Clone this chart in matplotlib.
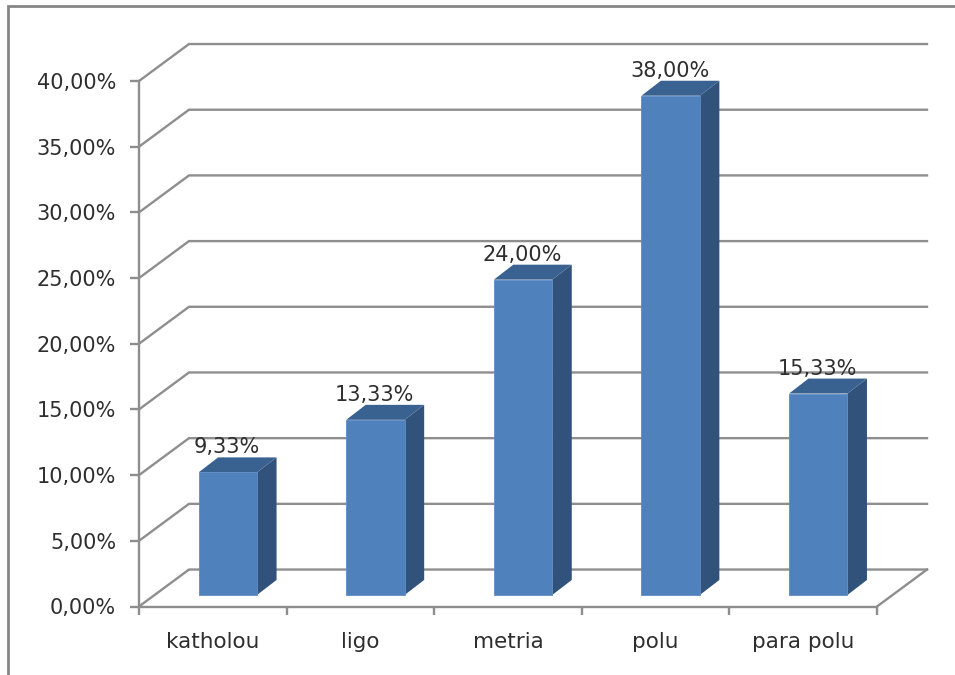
import matplotlib
matplotlib.use('Agg')
import matplotlib.pyplot as plt
from matplotlib.lines import Line2D
from matplotlib.patches import Polygon

categories = ['katholou', 'ligo', 'metria', 'polu', 'para polu']
values = [9.33, 13.33, 24.00, 38.00, 15.33]
y_ticks = [0, 5, 10, 15, 20, 25, 30, 35, 40]

W, H = 955, 675
GRID = '#8e8e8e'
TEXT = '#2e2e2e'

# floor depth of the 3d box, in data units
DEPTH_X = 50 / 147.6
DEPTH_Y = 37 / 13.15

# bar placement inside the box
BAR_W = 0.396
BAR_SHIFT_X = 0.102
BAR_BASE = 0.88
BAR_DX = 0.132
BAR_DY = 1.14


def pct(v):
    return f'{v:.2f}'.replace('.', ',') + '%'


plt.rcParams['font.family'] = ['DejaVu Sans']

fig = plt.figure(figsize=(W / 100, H / 100), dpi=100)
ax = fig.add_axes([139 / W, 1 - 606.5 / H, 738 / W, 525.5 / H])
ax.set_xlim(0, len(categories))
ax.set_ylim(0, 40)
ax.patch.set_visible(False)

for side in ['top', 'right']:
    ax.spines[side].set_visible(False)
for side in ['left', 'bottom']:
    ax.spines[side].set_color(GRID)
    ax.spines[side].set_linewidth(1.7)

ax.set_yticks(y_ticks)
ax.set_yticklabels([pct(v) for v in y_ticks])
ax.set_xticks(range(len(categories) + 1))
ax.set_xticklabels([])
ax.set_xticks([i + 0.5 for i in range(len(categories))], minor=True)
ax.set_xticklabels(categories, minor=True)
ax.tick_params(axis='y', length=6.5, width=1.7, color=GRID, pad=10,
               labelsize=15, labelcolor=TEXT)
ax.tick_params(axis='x', which='major', length=6, width=1.7, color=GRID)
ax.tick_params(axis='x', which='minor', length=0, pad=18,
               labelsize=15.5, labelcolor=TEXT)

# side wall diagonals and back wall gridlines
n = len(categories)
for v in y_ticks:
    ax.plot([0, DEPTH_X, n + DEPTH_X], [v, v + DEPTH_Y, v + DEPTH_Y],
            color=GRID, lw=1.7, clip_on=False, zorder=1,
            solid_joinstyle='miter')
ax.plot([n, n + DEPTH_X], [0, DEPTH_Y], color=GRID, lw=1.7, clip_on=False, zorder=1)

for i, v in enumerate(values):
    x0 = i + 0.5 + BAR_SHIFT_X - BAR_W / 2
    x1 = x0 + BAR_W
    y0 = BAR_BASE
    y1 = BAR_BASE + v
    # side, top, front
    ax.add_patch(Polygon([(x1, y0), (x1 + BAR_DX, y0 + BAR_DY),
                          (x1 + BAR_DX, y1 + BAR_DY), (x1, y1)],
                         fc='#31527b', ec='none', zorder=3, clip_on=False))
    ax.add_patch(Polygon([(x0, y1), (x1, y1), (x1 + BAR_DX, y1 + BAR_DY),
                          (x0 + BAR_DX, y1 + BAR_DY)],
                         fc='#3a6291', ec='none', zorder=3, clip_on=False))
    ax.add_patch(Polygon([(x0, y0), (x1, y0), (x1, y1), (x0, y1)],
                         fc='#4f81bd', ec='#5f8cc4', lw=0.6, zorder=4, clip_on=False))
    ax.annotate(pct(v), (x0 + BAR_W / 2, y1), xytext=(-0.5, 18),
                textcoords='offset points', ha='center', va='center',
                fontsize=15, color=TEXT, zorder=5, annotation_clip=False)

# outer chart frame, cut by the right and bottom edges
fig.add_artist(Line2D([8 / W, 8 / W, 1], [0, 1 - 6 / H, 1 - 6 / H],
                      color='#868686', lw=2, solid_joinstyle='miter'))

fig.savefig('out.png', dpi=100)
plt.close(fig)
